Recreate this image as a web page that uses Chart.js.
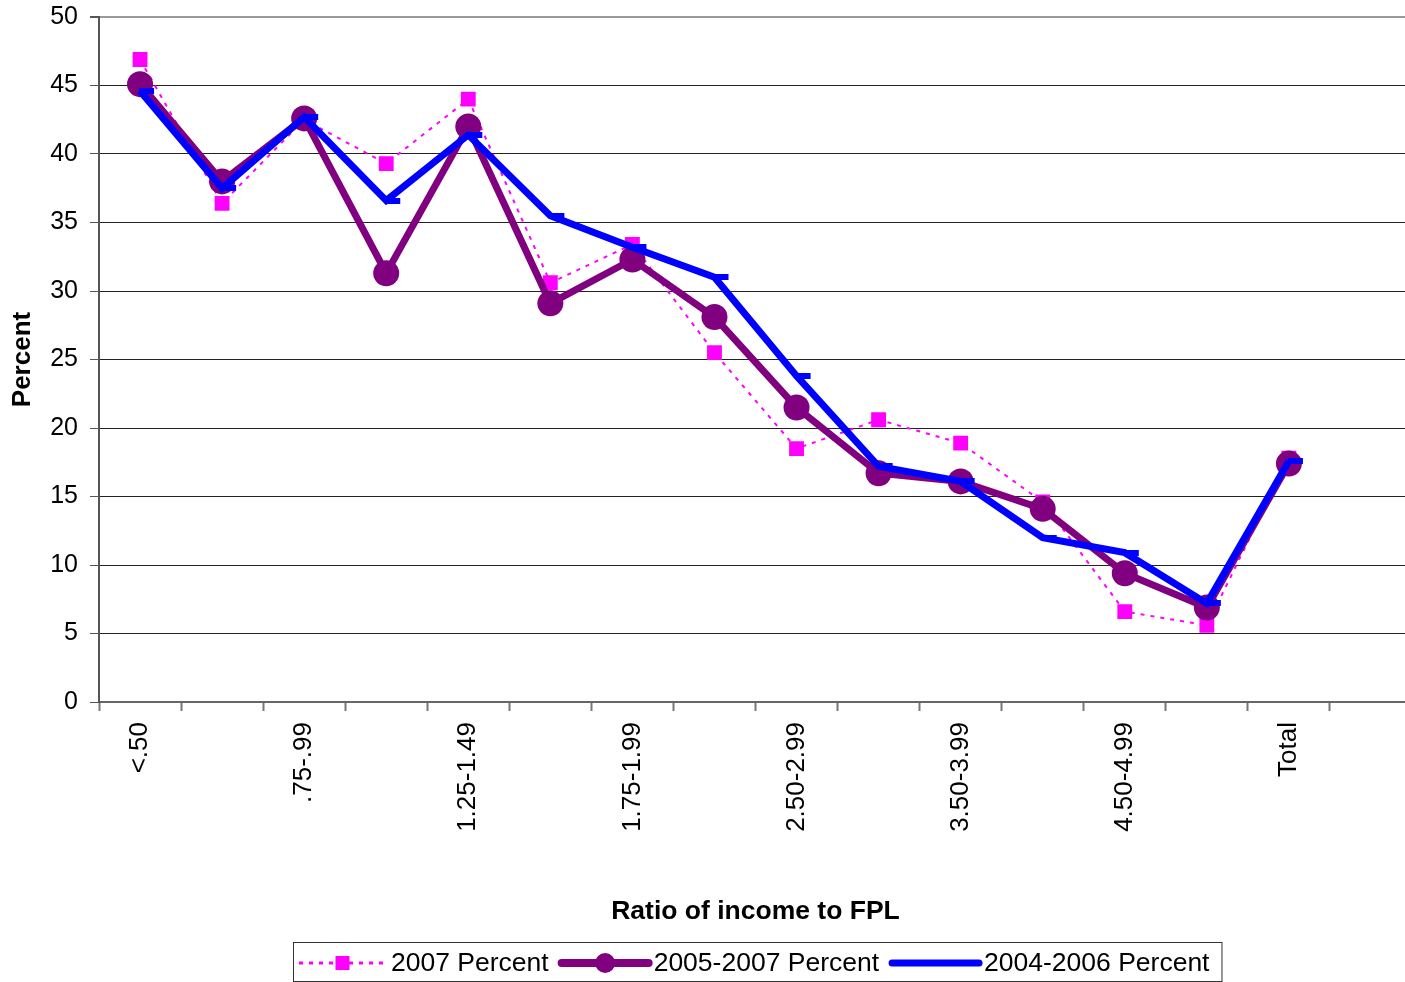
<!DOCTYPE html>
<html>
<head>
<meta charset="utf-8">
<script src="https://cdn.jsdelivr.net/npm/chart.js@4.4.1/dist/chart.umd.min.js"></script>
<style>
  html, body { margin: 0; padding: 0; background: #fff; overflow: hidden; }
  /* plot runs slightly past the window edge, like the original */
  #wrap { width: 1412px; height: 982px; position: relative; }
</style>
</head>
<body>
<div id="wrap"><canvas id="fplChart"></canvas></div>
<script>
// ---- data ----
const categories = ['<.50', '.50-.74', '.75-.99', '1.00-1.24', '1.25-1.49', '1.50-1.74',
    '1.75-1.99', '2.00-2.49', '2.50-2.99', '3.00-3.49', '3.50-3.99', '4.00-4.49',
    '4.50-4.99', '5.00+', 'Total', ''];
const pct2007 = [46.9, 36.4, 42.5, 39.3, 44.0, 30.6, 33.4, 25.5, 18.5, 20.6, 18.9, 14.6, 6.6, 5.6, 17.8, null];
const pct2005_2007 = [45.1, 38.0, 42.6, 31.3, 42.0, 29.1, 32.3, 28.1, 21.5, 16.7, 16.1, 14.1, 9.4, 6.9, 17.4, null];
const pct2004_2006 = [44.6, 37.5, 42.7, 36.6, 41.4, 35.5, 33.2, 31.0, 23.8, 17.2, 16.1, 12.0, 10.9, 7.2, 17.6, null];
const yTicks = [0, 5, 10, 15, 20, 25, 30, 35, 40, 45, 50];

const FONT = "'Liberation Sans', Arial, sans-serif";

// excel style "dash" marker, sits right of the point
function dashMarker() {
    const c = document.createElement('canvas');
    c.width = 30; c.height = 6;
    const g = c.getContext('2d');
    g.fillStyle = '#0000FF';
    g.fillRect(14, 0, 15, 6);
    return c;
}

// legend under the chart, line sample + marker like the original
const bottomLegend = {
    id: 'bottomLegend',
    afterDraw(chart) {
        const ctx = chart.ctx;
        const items = chart.data.datasets;
        ctx.save();
        ctx.font = '26.5px ' + FONT;
        const sample = 87, gapA = 5, gapB = 13, padL = 6, padR = 12;
        let total = padL + padR;
        items.forEach((d, i) => {
            total += sample + gapA + ctx.measureText(d.label).width;
            if (i < items.length - 1) total += gapB;
        });
        const cx = 757;
        const left = Math.round(cx - total / 2);
        const top = 942, bot = 981;
        ctx.strokeStyle = '#333';
        ctx.lineWidth = 1;
        ctx.strokeRect(left + 0.5, top + 0.5, total, bot - top);

        const my = 963;
        let x = left + padL;
        items.forEach((d) => {
            ctx.save();
            ctx.strokeStyle = d.borderColor;
            ctx.lineWidth = d.legendWidth;
            ctx.lineCap = d.borderDash ? 'butt' : 'round';
            ctx.setLineDash(d.borderDash || []);
            ctx.beginPath();
            ctx.moveTo(x, my);
            ctx.lineTo(x + sample, my);
            ctx.stroke();
            ctx.setLineDash([]);
            const px = x + sample / 2;
            ctx.fillStyle = d.pointBackgroundColor;
            if (d.pointStyle === 'rect') {
                ctx.fillRect(px - 7, my - 7, 14, 14);
            } else if (d.pointStyle === 'circle') {
                ctx.beginPath();
                ctx.arc(px, my, 10, 0, Math.PI * 2);
                ctx.fill();
            }
            ctx.restore();
            x += sample + gapA;
            ctx.fillStyle = '#000';
            ctx.textBaseline = 'middle';
            ctx.textAlign = 'left';
            ctx.fillText(d.label, x, my + 1);
            x += ctx.measureText(d.label).width + gapB;
        });
        ctx.restore();
    }
};

document.addEventListener('DOMContentLoaded', function () {
    const el = document.getElementById('fplChart');
    new Chart(el, {
        type: 'line',
        data: {
            labels: categories,
            datasets: [{
                label: '2007 Percent',
                data: pct2007,
                borderColor: '#FF00FF',
                borderWidth: 2,
                borderDash: [4, 6],
                legendWidth: 3,
                pointStyle: 'rect',
                pointRadius: 10.5,
                pointBorderWidth: 0,
                pointBackgroundColor: '#FF00FF',
                tension: 0,
                order: 2
            }, {
                label: '2005-2007 Percent',
                data: pct2005_2007,
                borderColor: '#800080',
                borderWidth: 7,
                legendWidth: 8,
                pointStyle: 'circle',
                pointRadius: 13,
                pointBorderWidth: 0,
                pointBackgroundColor: '#800080',
                tension: 0,
                order: 1
            }, {
                label: '2004-2006 Percent',
                data: pct2004_2006,
                borderColor: '#0000FF',
                borderWidth: 7,
                legendWidth: 7,
                pointStyle: dashMarker(),
                pointRadius: 8,
                pointBackgroundColor: '#0000FF',
                tension: 0,
                order: 0
            }]
        },
        options: {
            responsive: true,
            maintainAspectRatio: false,
            animation: false,
            layout: { autoPadding: false, padding: { left: 6, top: 17, right: 0, bottom: 50 } },
            plugins: {
                legend: { display: false },
                tooltip: { enabled: false }
            },
            scales: {
                x: {
                    offset: true,
                    afterFit: (s) => {
                        s.height = 230;
                        s.paddingLeft = 0;
                        s.paddingRight = 0;
                    },
                    grid: {
                        offset: true,
                        drawOnChartArea: false,
                        drawTicks: true,
                        tickLength: 9,
                        tickColor: '#777',
                        tickWidth: 2
                    },
                    border: { color: '#666', width: 2 },
                    ticks: {
                        autoSkip: false,
                        minRotation: 90,
                        maxRotation: 90,
                        padding: 11,
                        color: '#000',
                        font: { family: FONT, size: 26 },
                        callback: (v, i) => (i % 2 === 0 ? categories[i] : '')
                    },
                    title: {
                        display: true,
                        text: 'Ratio of income to FPL',
                        color: '#000',
                        font: { family: FONT, size: 26.5, weight: 'bold' },
                        padding: { top: 0, bottom: 4 }
                    }
                },
                y: {
                    min: 0,
                    max: 50,
                    afterFit: (s) => {
                        s.width = 93;
                        s.paddingTop = 0;
                        s.paddingBottom = 0;
                    },
                    afterBuildTicks: (s) => { s.ticks = yTicks.map(v => ({ value: v })); },
                    grid: {
                        color: (c) => (c.tick && c.tick.value === 50 ? '#999' : '#222'),
                        lineWidth: (c) => (c.tick && c.tick.value === 50 ? 2 : 1),
                        drawTicks: true,
                        tickLength: 9,
                        tickColor: '#555'
                    },
                    border: { color: '#555', width: 2 },
                    ticks: {
                        padding: 12,
                        color: '#000',
                        font: { family: FONT, size: 25 }
                    },
                    title: {
                        display: true,
                        text: 'Percent',
                        color: '#000',
                        font: { family: FONT, size: 26, weight: 'bold' },
                        padding: { top: 1, bottom: 0 }
                    }
                }
            }
        },
        plugins: [bottomLegend]
    });
});
</script>
</body>
</html>
